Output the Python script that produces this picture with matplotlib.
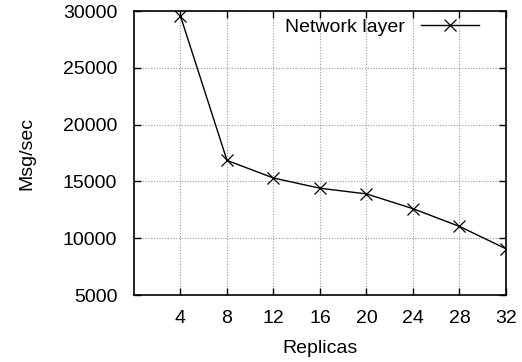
import matplotlib
matplotlib.use("Agg")
import matplotlib.pyplot as plt

# throughput of the network layer vs number of replicas
replicas = [4, 8, 12, 16, 20, 24, 28, 32]
msg_per_sec = [29550, 16850, 15300, 14400, 13900, 12600, 11040, 9070]
x_ticks = [4, 8, 12, 16, 20, 24, 28, 32]
y_ticks = [5000, 10000, 15000, 20000, 25000, 30000]

plt.rcParams["font.family"] = ["Liberation Sans", "DejaVu Sans"]
plt.rcParams["font.size"] = 14

fig = plt.figure(figsize=(5.22, 3.62), dpi=100)
ax = fig.add_axes([0.2567, 0.185, 0.7126, 0.7846])

ax.plot(replicas, msg_per_sec, color="black", linewidth=1.0, marker="x",
        markersize=8, markeredgewidth=0.9, label="Network layer")

ax.set_xlim(0, 32)
ax.set_ylim(5000, 30000)
ax.set_xticks(x_ticks)
ax.set_yticks(y_ticks)
ax.tick_params(direction="in", length=5, width=1, top=True, right=True,
               labelsize=14)
ax.tick_params(axis="y", pad=12)
ax.tick_params(axis="x", pad=11)
for s in ax.spines.values():
    s.set_linewidth(1.2)

ax.grid(True, color="#999999", linestyle=(0, (1, 1.5)), linewidth=0.8)

ax.set_xlabel("Replicas", labelpad=9)
ax.set_ylabel("Msg/sec", labelpad=20)

ax.legend(loc="upper right", frameon=False, markerfirst=False,
          handlelength=3.0, handletextpad=0.8, borderaxespad=0, borderpad=0,
          bbox_to_anchor=(0.928, 0.975))

fig.savefig("out.png", dpi=100)
